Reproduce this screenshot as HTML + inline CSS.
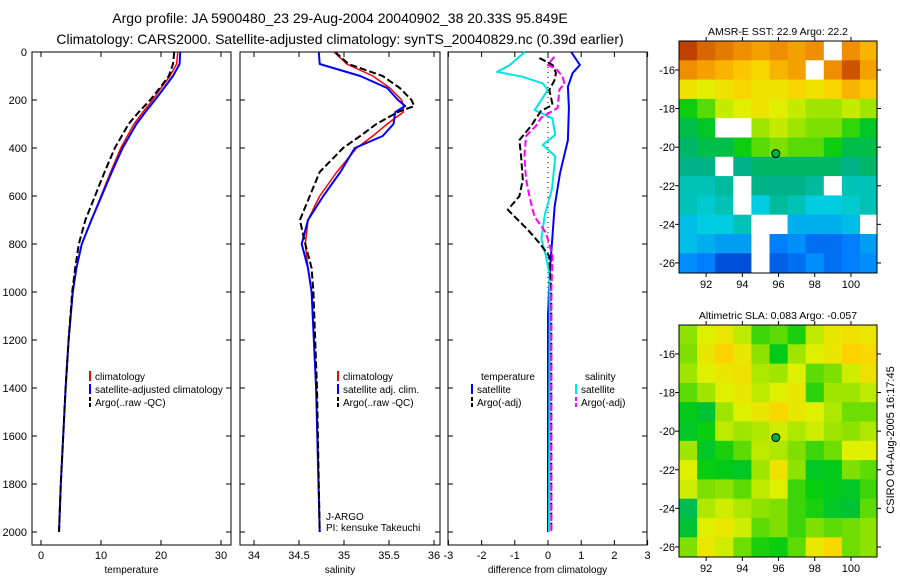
<!DOCTYPE html>
<html><head><meta charset="utf-8"><style>
html,body{margin:0;padding:0;background:#fff;}
svg{display:block;font-family:"Liberation Sans",sans-serif;}
text{fill:#000;}
</style></head><body>
<svg id="chart" width="900" height="580" viewBox="0 0 900 580" xmlns="http://www.w3.org/2000/svg">
<text x="340" y="23" font-size="14" text-anchor="middle">Argo profile: JA 5900480_23 29-Aug-2004 20040902_38 20.33S 95.849E</text>
<text x="340" y="44" font-size="14" text-anchor="middle">Climatology: CARS2000. Satellite-adjusted climatology: synTS_20040829.nc (0.39d earlier)</text>
<g id="g1"></g>
<g id="g2"></g>
<g id="g3"></g>
<g id="m1"></g>
<g id="m2"></g>
<text transform="translate(894,440) rotate(-90)" font-size="11" text-anchor="middle">CSIRO 04-Aug-2005 16:17:45</text>
</svg>
<script>
// ---------- data ----------
const profDepths = [0,50,100,150,200,250,300,400,500,600,700,800,900,1000,1200,1400,1600,1800,2000];
const tempClim = [22.8,22.6,21.5,20.0,18.6,17.0,15.5,13.3,11.6,10.0,8.4,6.8,5.9,5.3,4.6,4.1,3.7,3.3,3.0];
const tempSat  = [23.2,23.1,22.0,20.5,19.0,17.4,15.9,13.6,11.8,10.1,8.4,6.8,5.9,5.3,4.6,4.1,3.7,3.3,3.0];
const tempArgo = [22.2,22.0,21.3,19.8,18.2,16.3,14.6,12.3,10.6,9.0,7.4,6.3,5.7,5.2,4.6,4.1,3.7,3.3,3.0];
const salDepths = [0,50,100,150,200,225,250,300,350,400,500,600,700,800,900,1000,1400,2000];
const salClim = [34.89,35.03,35.32,35.51,35.64,35.66,35.66,35.48,35.32,35.14,34.92,34.73,34.6,34.57,34.6,34.64,34.69,34.73];
const salSat  = [34.72,34.73,35.18,35.48,35.6,35.68,35.57,35.55,35.43,35.12,34.96,34.77,34.6,34.53,34.6,34.64,34.69,34.73];
const salArgo = [34.9,35.05,35.43,35.62,35.75,35.78,35.6,35.36,35.18,34.99,34.73,34.62,34.51,34.57,34.64,34.66,34.70,34.73];
const dTsatDepths = [0,54,88,145,233,367,505,645,810,922,1100,1400,2000];
const dTsat = [0.7,0.96,0.74,0.6,0.63,0.6,0.36,0.2,0.11,0.05,0.0,0.0,0.0];
const dSsatDepths = [0,54,83,103,131,158,193,242,276,345,387,435,570,680,780,850,922,1100,2000];
const dSsat = [-0.7,-1.15,-1.53,-0.77,-0.16,-0.01,-0.17,-0.4,0.13,0.22,-0.16,0.22,0.12,-0.1,-0.2,-0.06,0.04,0.05,0.03];
const dTargoDepths = [25,54,88,120,158,220,246,308,367,435,532,601,657,699,740,796,851,1000,1500,2000];
const dTargo = [-0.26,0.14,0.24,0.19,0.04,0.14,-0.21,-0.51,-0.86,-0.81,-0.76,-0.86,-1.21,-0.91,-0.61,-0.26,0.04,0.1,0.1,0.1];
const dSargoDepths = [20,54,70,102,131,158,233,274,308,349,435,532,601,685,754,851,1000,2000];
const dSargo = [0.19,-0.01,0.24,0.44,0.49,0.34,0.29,-0.21,-0.36,-0.66,-0.71,-0.66,-0.56,-0.41,-0.06,0.14,0.1,0.1];
const depthTicks = [0,200,400,600,800,1000,1200,1400,1600,1800,2000];
const tempTicks = [0,10,20,30];
const salTicks = [34,34.5,35,35.5,36];
const diffTicks = [-3,-2,-1,0,1,2,3];
const mapLons = [91,92,93,94,95,96,97,98,99,100,101];
const mapLats = [-15,-16,-17,-18,-19,-20,-21,-22,-23,-24,-25,-26];
const lonTicks = [92,94,96,98,100];
const latTicks = [-16,-18,-20,-22,-24,-26];
const floatLon = 95.849, floatLat = -20.33;
const sstGrid = [
[24.3,24.0,23.9,23.8,23.7,23.8,23.7,23.8,null,23.8,23.6],
[23.8,23.7,23.6,23.5,23.4,23.6,23.7,null,23.8,24.1,23.7],
[23.3,23.2,23.3,23.4,23.3,23.3,23.4,23.3,23.4,23.6,23.5],
[22.6,22.8,23.1,23.2,23.3,23.2,23.1,23.0,23.0,23.1,23.0],
[22.4,22.5,null,null,23.0,23.1,23.0,22.9,22.9,22.7,22.5],
[22.3,22.4,22.4,22.6,22.8,22.9,22.8,22.8,22.6,22.4,22.4],
[22.2,22.2,null,22.2,22.3,22.3,22.3,22.3,22.3,22.2,22.3],
[22.0,22.0,22.1,null,22.2,22.2,22.2,22.1,null,22.0,22.0],
[22.0,21.9,22.0,null,21.8,22.1,22.0,21.8,21.8,21.9,22.0],
[21.7,21.8,21.8,22.0,null,null,21.6,21.6,21.6,21.7,null],
[21.7,21.6,21.5,21.5,null,21.3,21.4,21.2,21.2,21.3,21.5],
[21.4,21.3,21.0,21.0,null,21.1,21.2,21.4,21.2,21.3,21.4]];
const slaGrid = [
[0.05,0.10,0.12,0.08,0.0,0.02,-0.02,0.08,0.12,0.13,0.12],
[0.04,0.12,0.16,0.12,0.05,-0.04,0.06,0.10,0.12,0.16,0.15],
[0.06,0.10,0.12,0.13,0.07,0.06,0.10,0.02,0.04,0.09,0.13],
[0.02,0.06,0.10,0.12,0.08,0.10,0.12,-0.01,0.06,0.06,0.08],
[-0.04,-0.06,0.06,0.10,0.12,0.15,0.12,0.10,0.07,0.03,0.03],
[-0.05,-0.03,0.08,0.06,0.07,0.09,0.07,0.09,0.06,0.05,0.07],
[0.06,-0.05,-0.02,0.02,0.08,0.07,0.04,0.00,0.03,0.10,0.10],
[0.10,-0.03,-0.04,-0.05,0.06,0.13,0.05,-0.05,-0.04,0.04,0.02],
[0.09,0.04,0.05,0.02,0.08,0.10,0.00,-0.03,-0.04,-0.05,0.0],
[-0.08,0.07,0.09,0.07,0.05,0.04,0.00,-0.02,-0.05,-0.06,0.02],
[-0.06,0.10,0.12,0.09,0.02,0.04,0.0,0.04,0.02,0.03,0.05],
[0.04,0.12,0.09,0.03,-0.02,-0.03,0.02,0.12,0.15,0.03,0.05]];

// ---------- helpers ----------
const NS = "http://www.w3.org/2000/svg";
function mk(parent, tag, attrs, txt){
  const e = document.createElementNS(NS, tag);
  for (const k in attrs) e.setAttribute(k, attrs[k]);
  if (txt !== undefined) e.textContent = txt;
  parent.appendChild(e);
  return e;
}
const PY0 = 52, PY1 = 545;
function yDepth(d){ return PY0 + d * 0.24; }
function xTemp(t){ return 41 + 6 * t; }
function xSal(s){ return 254 + 90 * (s - 34); }
function xDiff(v){ return 548 + 33.2 * v; }

function panelFrame(g, x0, x1, xTicks, xf, fmt, xlabel, leftLabels){
  const r = mk(g,'rect',{x:x0,y:PY0,width:x1-x0,height:PY1-PY0,fill:'none',stroke:'#000','stroke-width':1});
  
  
  depthTicks.forEach(d=>{
    const y = yDepth(d);
    mk(g,'line',{x1:x0,x2:x0+5,y1:y,y2:y,stroke:'#000'});
    mk(g,'line',{x1:x1-5,x2:x1,y1:y,y2:y,stroke:'#000'});
    if (leftLabels){
      const t = mk(g,'text',{x:27,y:y+4,'font-size':11,'text-anchor':'end'}, String(d));
      
      
    }
  });
  xTicks.forEach(v=>{
    const x = xf(v);
    mk(g,'line',{x1:x,x2:x,y1:PY0,y2:PY0+5,stroke:'#000'});
    mk(g,'line',{x1:x,x2:x,y1:PY1-5,y2:PY1,stroke:'#000'});
    const t = mk(g,'text',{x:x,y:559,'font-size':11,'text-anchor':'middle'}, fmt(v));
    
    
  });
  const xl = mk(g,'text',{x:(x0+x1)/2,y:573,'font-size':10,'text-anchor':'middle'}, xlabel);
  
  
}
function line(g, depths, vals, xf, color, w, dash, name){
  const pts = depths.map((d,i)=> xf(vals[i]).toFixed(1)+','+yDepth(d).toFixed(1)).join(' ');
  const p = mk(g,'polyline',{points:pts,fill:'none',stroke:color,'stroke-width':w,'stroke-linejoin':'round'});
  if (dash) p.setAttribute('stroke-dasharray', dash);
  
  
}
function legend(g, x, y, color, dash, label){
  const l = mk(g,'line',{x1:x,x2:x,y1:y-9,y2:y+1,stroke:color,'stroke-width':2});
  if (dash) l.setAttribute('stroke-dasharray', dash);
  
  
  const t = mk(g,'text',{x:x+5,y:y,'font-size':10}, label);
  
  
}
const DASH = "7,3";

// ---------- panel 1 ----------
const g1 = document.getElementById('g1');
panelFrame(g1, 32, 231, tempTicks, xTemp, v=>String(v), 'temperature', true);
line(g1, profDepths, tempClim, xTemp, '#ff0000', 1.5, null, 'temp-climatology-line');
line(g1, profDepths, tempSat, xTemp, '#0000ff', 2, null, 'temp-satellite-line');
line(g1, profDepths, tempArgo, xTemp, '#000', 2, DASH, 'temp-argo-line');
legend(g1, 90, 380, '#ff0000', null, 'climatology');
legend(g1, 90, 393, '#0000ff', null, 'satellite-adjusted climatology');
legend(g1, 90, 406, '#000', "4,2", 'Argo(..raw -QC)');

// ---------- panel 2 ----------
const g2 = document.getElementById('g2');
panelFrame(g2, 240, 440, salTicks, xSal, v=>String(v), 'salinity', false);
line(g2, salDepths, salClim, xSal, '#ff0000', 1.5, null, 'sal-climatology-line');
line(g2, salDepths, salSat, xSal, '#0000ff', 2, null, 'sal-satellite-line');
line(g2, salDepths, salArgo, xSal, '#000', 2, DASH, 'sal-argo-line');
legend(g2, 338, 380, '#ff0000', null, 'climatology');
legend(g2, 338, 393, '#0000ff', null, 'satellite adj. clim.');
legend(g2, 338, 406, '#000', "4,2", 'Argo(..raw -QC)');
[['J-ARGO',520],['PI: kensuke Takeuchi',531]].forEach(a=>{
  const t = mk(g2,'text',{x:326,y:a[1],'font-size':10}, a[0]);
  
  
});

// ---------- panel 3 ----------
const g3 = document.getElementById('g3');
panelFrame(g3, 448, 647, diffTicks, xDiff, v=>String(v), 'difference from climatology', false);
mk(g3,'line',{x1:xDiff(0),x2:xDiff(0),y1:PY0,y2:yDepth(2000),stroke:'#000','stroke-dasharray':'1,4'});
line(g3, dTsatDepths, dTsat, xDiff, '#0000ff', 2, null, 'temp-satellite-diff-line');
line(g3, dSsatDepths, dSsat, xDiff, '#00e5e5', 2, null, 'sal-satellite-diff-line');
line(g3, dTargoDepths, dTargo, xDiff, '#000', 2, DASH, 'temp-argo-diff-line');
line(g3, dSargoDepths, dSargo, xDiff, '#ff00ff', 2, DASH, 'sal-argo-diff-line');
const th = mk(g3,'text',{x:481,y:380,'font-size':10}, 'temperature');


const sh = mk(g3,'text',{x:585,y:380,'font-size':10}, 'salinity');


legend(g3, 472, 393, '#0000ff', null, 'satellite');
legend(g3, 472, 406, '#000', "4,2", 'Argo(-adj)');
legend(g3, 576, 393, '#00e5e5', null, 'satellite');
legend(g3, 576, 406, '#ff00ff', "4,2", 'Argo(-adj)');

// ---------- maps ----------
const cmapStops = [[0,[0,48,192]],[0.15,[0,128,255]],[0.3,[0,208,224]],[0.42,[0,176,128]],[0.52,[0,204,16]],[0.62,[128,224,0]],[0.7,[224,240,0]],[0.78,[255,208,0]],[0.88,[240,144,0]],[1,[192,64,0]]];
function cmap(t){
  t = Math.max(0, Math.min(1, t));
  for (let i=1;i<cmapStops.length;i++){
    if (t <= cmapStops[i][0]){
      const a = cmapStops[i-1], b = cmapStops[i];
      const f = (t-a[0])/(b[0]-a[0]);
      const c = a[1].map((v,k)=>Math.round(v+(b[1][k]-v)*f));
      return 'rgb('+c.join(',')+')';
    }
  }
  return 'rgb(192,64,0)';
}
function drawMap(id, top, grid, vmin, vmax, title){
  const g = document.getElementById(id);
  const X0 = 679, X1 = 877, LON0 = 90.5, PXLON = 18.1, PXLAT = 19.3, LAT0 = -14.5;
  const xLon = lon => X0 + (lon - LON0) * PXLON;
  const yLat = lat => top + (LAT0 - lat) * PXLAT;
  const H = 232;
  mapLats.forEach((lat,r)=>{
    mapLons.forEach((lon,c)=>{
      const v = grid[r][c];
      const x = xLon(lon-0.5), y = yLat(lat+0.5);
      const rect = mk(g,'rect',{x:x.toFixed(1),y:y.toFixed(1),width:(PXLON+0.6).toFixed(1),height:(PXLAT+0.6).toFixed(1),fill: v===null ? '#fff' : cmap((v-vmin)/(vmax-vmin))});
      
      
    });
  });
  mk(g,'rect',{x:X1,y:top-2,width:12,height:H+4,fill:'#fff'});
  mk(g,'rect',{x:X0,y:top,width:X1-X0,height:H,fill:'none',stroke:'#000'});
  lonTicks.forEach(l=>{
    const x = xLon(l);
    mk(g,'line',{x1:x,x2:x,y1:top-4,y2:top,stroke:'#000'});
    mk(g,'line',{x1:x,x2:x,y1:top+H,y2:top+H+4,stroke:'#000'});
    const t = mk(g,'text',{x:x,y:top+H+15,'font-size':11,'text-anchor':'middle'}, String(l));
    
    
  });
  latTicks.forEach(l=>{
    const y = yLat(l);
    mk(g,'line',{x1:X0-4,x2:X0,y1:y,y2:y,stroke:'#000'});
    mk(g,'line',{x1:X1,x2:X1+4,y1:y,y2:y,stroke:'#000'});
    const t = mk(g,'text',{x:X0-4,y:y+4,'font-size':11,'text-anchor':'end'}, String(l));
    
    
  });
  const c = mk(g,'circle',{cx:xLon(floatLon),cy:yLat(floatLat),r:4,fill:'#00b040',stroke:'#000','stroke-width':1});
  
  
  const tt = mk(g,'text',{x:778,y:top-6,'font-size':10.5,'text-anchor':'middle'}, title);
  
  
}
drawMap('m1', 41, sstGrid, 20.8, 24.2, 'AMSR-E SST: 22.9 Argo: 22.2');
drawMap('m2', 325, slaGrid, -0.4316, 0.33, 'Altimetric SLA: 0.083 Argo: -0.057');
</script>
</body></html>
